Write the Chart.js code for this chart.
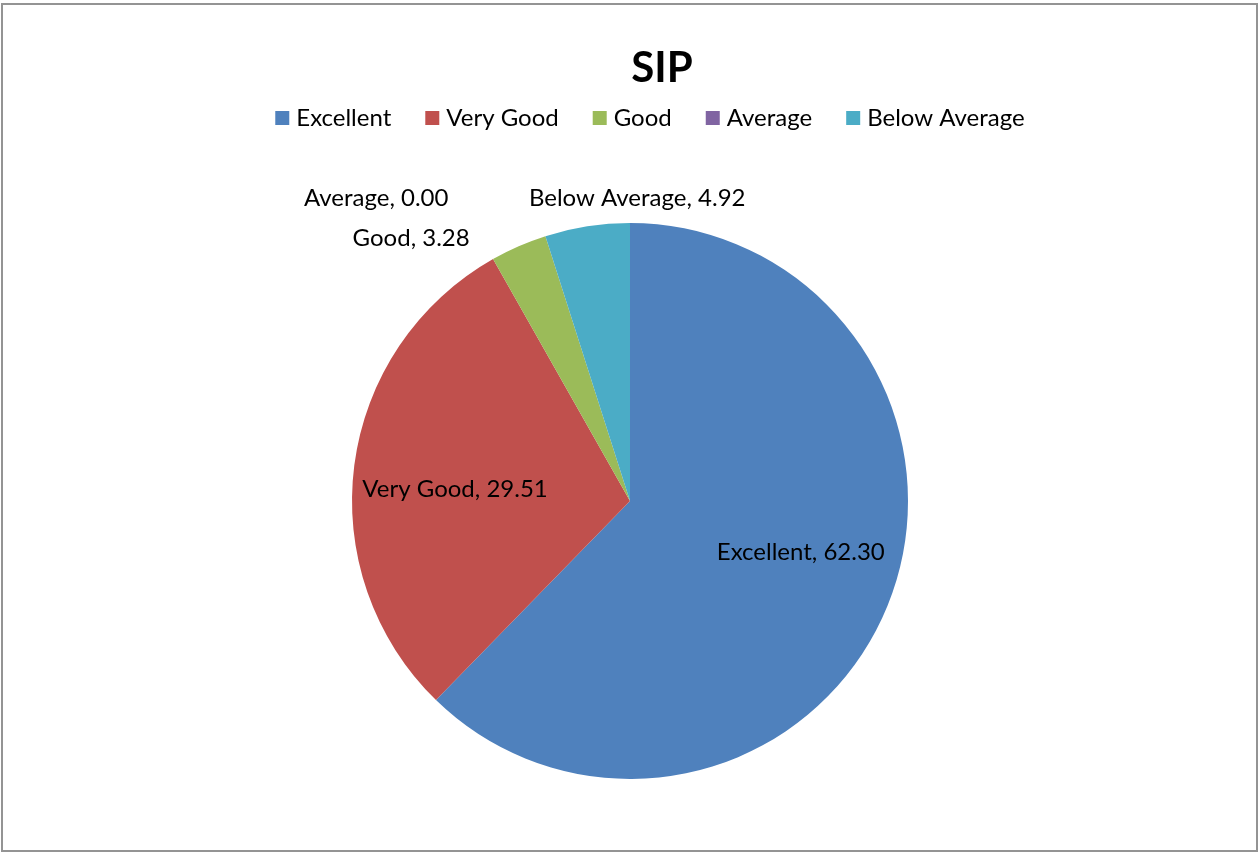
<!DOCTYPE html>
<html><head><meta charset="utf-8">
<script src="https://cdn.jsdelivr.net/npm/chart.js@4/dist/chart.umd.min.js"></script>
<style>html,body{margin:0;padding:0;background:#fff;overflow:hidden}canvas{display:block}</style>
</head><body>
<canvas id="c" width="1258" height="852"></canvas>
<script>
const categories = ['Excellent', 'Very Good', 'Good', 'Average', 'Below Average'];
const values = [62.30, 29.51, 3.28, 0.00, 4.92];
const colors = ['#4F81BD', '#C0504D', '#9BBB59', '#8064A2', '#4BACC6'];
const chartTitle = 'SIP';

const FONT = 'Lato, "Open Sans", sans-serif';
const LABEL_SIZE = 24;
// label placement relative to arc geometry
const labelPlacement = [
  { f: 0.64, dx: 6, dy: -16, align: 'center' },
  { f: 0.64, dx: 1.5, dy: 11, align: 'center' },
  { f: 1, dx: -49, dy: -8, align: 'right' },
  { f: 1, dx: -97, dy: -38, align: 'right' },
  { f: 1, dx: 50, dy: -28, align: 'center' }
];

const decorPlugin = {
  id: 'decor',
  beforeDraw(chart) {
    const ctx = chart.ctx;
    ctx.save();
    ctx.fillStyle = '#fff';
    ctx.fillRect(0, 0, chart.width, chart.height);
    ctx.strokeStyle = '#949494';
    ctx.lineWidth = 2;
    ctx.strokeRect(2, 4, 1255, 847);
    // title
    ctx.fillStyle = '#000';
    ctx.font = 'bold 42px ' + FONT;
    ctx.textAlign = 'center';
    ctx.textBaseline = 'middle';
    ctx.fillText(chartTitle, 662, 68);
    // legend
    ctx.font = LABEL_SIZE + 'px ' + FONT;
    const box = 14, gap = 7, spacing = 34;
    const widths = categories.map(c => ctx.measureText(c).width);
    const total = widths.reduce((a, w) => a + box + gap + w, 0) + spacing * (categories.length - 1);
    let x = 650 - total / 2;
    const y = 118;
    ctx.textAlign = 'left';
    categories.forEach((c, i) => {
      ctx.fillStyle = colors[i];
      ctx.fillRect(x, y - box / 2, box, box);
      ctx.fillStyle = '#000';
      ctx.fillText(c, x + box + gap, y);
      x += box + gap + widths[i] + spacing;
    });
    ctx.restore();
  },
  afterDatasetsDraw(chart) {
    const ctx = chart.ctx;
    const meta = chart.getDatasetMeta(0);
    ctx.save();
    ctx.font = LABEL_SIZE + 'px ' + FONT;
    ctx.fillStyle = '#000';
    ctx.textBaseline = 'middle';
    meta.data.forEach((arc, i) => {
      const p = arc.getProps(['x', 'y', 'startAngle', 'endAngle', 'outerRadius'], true);
      const mid = (p.startAngle + p.endAngle) / 2;
      const lp = labelPlacement[i];
      const lx = p.x + Math.cos(mid) * p.outerRadius * lp.f + lp.dx;
      const ly = p.y + Math.sin(mid) * p.outerRadius * lp.f + lp.dy;
      ctx.textAlign = lp.align;
      ctx.fillText(categories[i] + ', ' + values[i].toFixed(2), lx, ly);
    });
    ctx.restore();
  }
};

new Chart(document.getElementById('c'), {
  type: 'pie',
  data: {
    labels: categories,
    datasets: [{
      data: values,
      backgroundColor: colors,
      borderWidth: 0,
      hoverOffset: 0,
      offset: 0
    }]
  },
  options: {
    responsive: false,
    animation: false,
    layout: { padding: { top: 223, bottom: 73, left: 2, right: 0 } },
    plugins: {
      legend: { display: false },
      title: { display: false },
      tooltip: { enabled: false }
    }
  },
  plugins: [decorPlugin]
});
</script>
</body></html>
